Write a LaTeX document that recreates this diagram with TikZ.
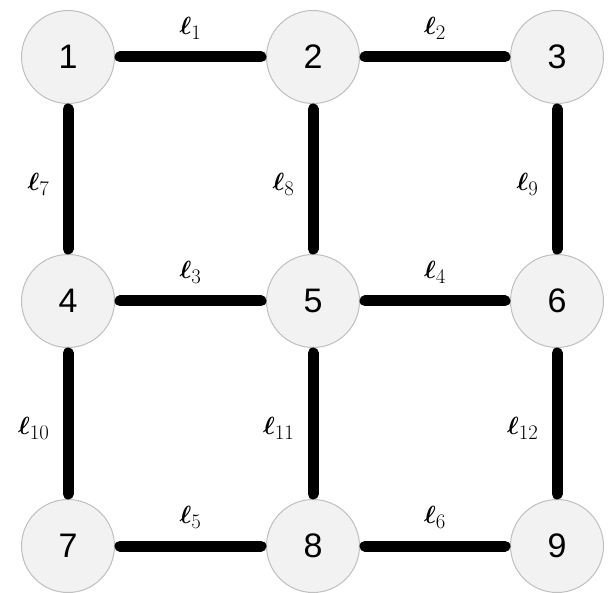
\documentclass[tikz,border=0pt]{standalone}
\usepackage{amsmath}
\usepackage{fontspec}
\setmainfont{Liberation Sans}
\newcommand{\lbl}[1]{$\boldsymbol{\ell}_{#1}$}
\begin{document}
\begin{tikzpicture}[x=1pt,y=-1pt,
  vtx/.style={circle,minimum size=93pt,inner sep=0pt,fill=black!5,draw=black!25,line width=1pt,font=\fontsize{34}{34}\selectfont},
  edge/.style={line width=11pt,line cap=round,shorten <=5pt,shorten >=5pt},
  lab/.style={font=\fontsize{28}{28}\selectfont,inner sep=0pt},
  hl/.style={lab,above=12pt},
  vl/.style={lab,left=13pt,yshift=-5pt}]
\useasboundingbox (0,0) rectangle (608,593);
\node[vtx] (n1) at (68,57) {1};
\node[vtx] (n2) at (313,57) {2};
\node[vtx] (n3) at (557,57) {3};
\node[vtx] (n4) at (68,301) {4};
\node[vtx] (n5) at (313,301) {5};
\node[vtx] (n6) at (557,301) {6};
\node[vtx] (n7) at (68,546) {7};
\node[vtx] (n8) at (313,546) {8};
\node[vtx] (n9) at (557,546) {9};
\draw[edge] (n1) -- node[hl] {\lbl{1}} (n2);
\draw[edge] (n2) -- node[hl] {\lbl{2}} (n3);
\draw[edge] (n4) -- node[hl] {\lbl{3}} (n5);
\draw[edge] (n5) -- node[hl] {\lbl{4}} (n6);
\draw[edge] (n7) -- node[hl] {\lbl{5}} (n8);
\draw[edge] (n8) -- node[hl] {\lbl{6}} (n9);
\draw[edge] (n1) -- node[vl] {\lbl{7}} (n4);
\draw[edge] (n2) -- node[vl] {\lbl{8}} (n5);
\draw[edge] (n3) -- node[vl] {\lbl{9}} (n6);
\draw[edge] (n4) -- node[vl] {\lbl{10}} (n7);
\draw[edge] (n5) -- node[vl] {\lbl{11}} (n8);
\draw[edge] (n6) -- node[vl] {\lbl{12}} (n9);
\end{tikzpicture}
\end{document}
